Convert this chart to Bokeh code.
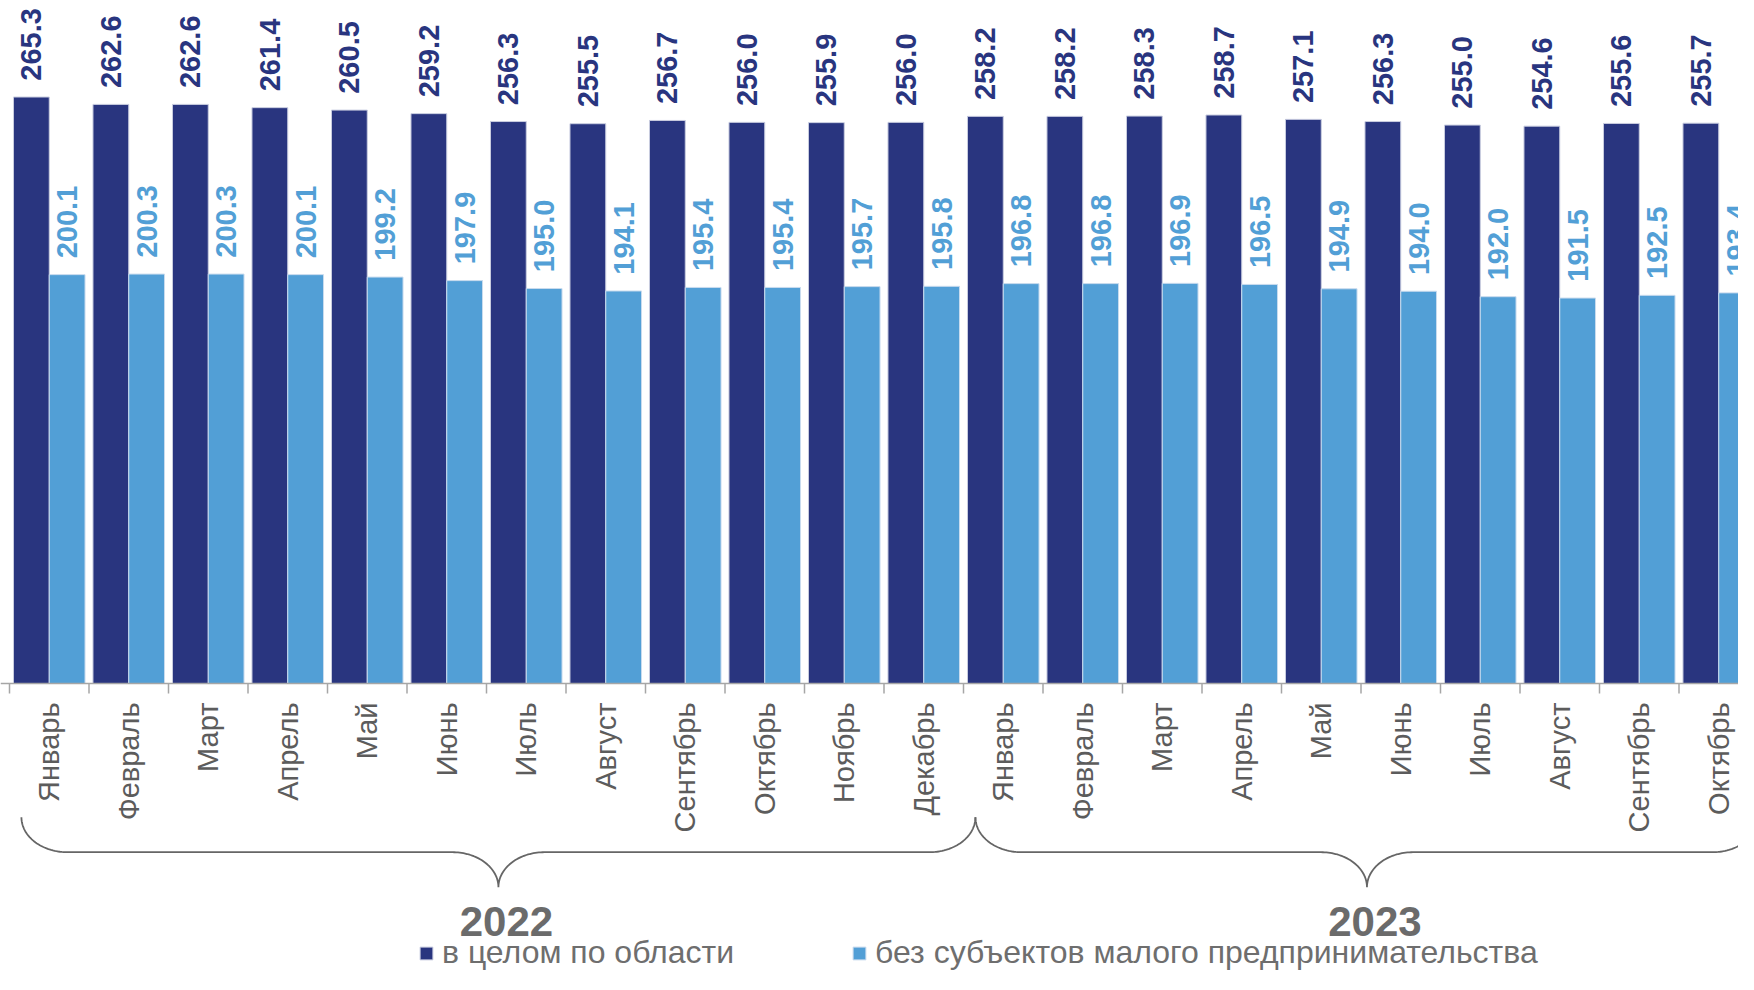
import numpy as np
from bokeh.plotting import figure
from bokeh.models import ColumnDataSource, Range1d, Legend, LegendItem, Span
from bokeh.core.properties import value
from bokeh.embed import file_html
from bokeh.resources import INLINE

# ---------------- data ----------------
months = ["Январь", "Февраль", "Март", "Апрель", "Май", "Июнь", "Июль", "Август",
          "Сентябрь", "Октябрь", "Ноябрь", "Декабрь",
          "Январь", "Февраль", "Март", "Апрель", "Май", "Июнь", "Июль", "Август",
          "Сентябрь", "Октябрь"]
years = ["2022", "2023"]
year_counts = [12, 10]
total = [265.3, 262.6, 262.6, 261.4, 260.5, 259.2, 256.3, 255.5, 256.7, 256.0, 255.9, 256.0,
         258.2, 258.2, 258.3, 258.7, 257.1, 256.3, 255.0, 254.6, 255.6, 255.7]
excl = [200.1, 200.3, 200.3, 200.1, 199.2, 197.9, 195.0, 194.1, 195.4, 195.4, 195.7, 195.8,
        196.8, 196.8, 196.9, 196.5, 194.9, 194.0, 192.0, 191.5, 192.5, 193.4]
series_names = ["в целом по области", "без субъектов малого предпринимательства"]

# ---------------- layout / style ----------------
W, H = 1738, 974
FONT = "Liberation Sans"
DARK = "#29357F"
LIGHT = "#529FD6"
GREY = "#5c5c5c"
BASE = 50.0           # value where bars start (axis line)
BASE_PX = 683.0       # pixel row of the axis line
K = 2.724             # pixels per value unit
GROUP_PX = 79.5
LEFT_PX = 9.0


def v_at(py):
    return BASE + (BASE_PX - py) / K


n = len(months)
x_start = -LEFT_PX / GROUP_PX
x_end = (W - LEFT_PX) / GROUP_PX

p = figure(width=W, height=H, x_range=Range1d(x_start, x_end),
           y_range=Range1d(v_at(H), v_at(0)),
           output_backend="svg", toolbar_location=None,
           x_axis_location=None, y_axis_location=None,
           min_border_left=0, min_border_right=0, min_border_top=0, min_border_bottom=0,
           outline_line_color=None, background_fill_color="white")
p.grid.visible = False

idx = np.arange(n)
src = ColumnDataSource(dict(
    xd=idx + 0.275, xl=idx + 0.725, xm=idx + 0.5,
    total=total, excl=excl,
    td=[f"{v:.1f}" for v in total], tl=[f"{v:.1f}" for v in excl],
    yd=[v + 6.0 for v in total], yl=[v + 6.0 for v in excl],
    month=months,
))

r1 = p.vbar(x="xd", top="total", bottom=BASE, width=0.45, source=src,
            fill_color=DARK, line_color="#c9cde0", line_width=1)
r2 = p.vbar(x="xl", top="excl", bottom=BASE, width=0.45, source=src,
            fill_color=LIGHT, line_color="#c9dbee", line_width=1)

# value labels
p.text(x="xd", y="yd", text="td", source=src, angle=np.pi / 2,
       text_align="left", text_baseline="middle",
       text_font=value(FONT), text_font_style="bold", text_font_size="29px",
       text_color=DARK)
p.text(x="xl", y="yl", text="tl", source=src, angle=np.pi / 2,
       text_align="left", text_baseline="middle",
       text_font=value(FONT), text_font_style="bold", text_font_size="29px",
       text_color=LIGHT)

# category axis: line, ticks at group boundaries, month labels
p.add_layout(Span(location=BASE, dimension="width", line_color="#a6a6a6", line_width=1.5))
bounds = np.arange(n + 1)
p.segment(x0=bounds, x1=bounds, y0=[BASE] * len(bounds), y1=[BASE - 10 / K] * len(bounds),
          line_color="#a6a6a6", line_width=1.5)
p.text(x="xm", y=v_at(702), text="month", source=src, angle=np.pi / 2,
       text_align="right", text_baseline="middle",
       text_font=value(FONT), text_font_size="29px", text_color=GREY)

# year braces
offset = 0.15
rx = 46 / GROUP_PX
ry = 35 / K
y_mid = v_at(851.7)
y_tip = y_mid + ry
y_pt = y_mid - ry
t = np.linspace(0, np.pi / 2, 40)
xs, ys, ylab_x = [], [], []
start = 0
for yr, cnt in zip(years, year_counts):
    x0 = start + offset
    x1 = min(start + cnt + offset, n)
    xc = (x0 + x1) / 2
    bx = np.concatenate([x0 + rx * (1 - np.cos(t)),
                         xc - rx + rx * np.sin(t),
                         xc + rx * (1 - np.cos(t)),
                         x1 - rx + rx * np.sin(t)])
    by = np.concatenate([y_mid + ry * (1 - np.sin(t)),
                         y_pt + ry * np.cos(t),
                         y_pt + ry * np.sin(t),
                         y_mid + ry * (1 - np.cos(t))])
    xs.append(list(bx))
    ys.append(list(by))
    ylab_x.append(xc + 0.1)
    start += cnt
p.multi_line(xs=xs, ys=ys, line_color="#666666", line_width=1.8)
p.text(x=ylab_x, y=[v_at(921)] * len(ylab_x), text=years,
       text_align="center", text_baseline="middle",
       text_font=value(FONT), text_font_style="bold", text_font_size="42px",
       text_color="#6b6b6b")

# legend
legend = Legend(items=[LegendItem(label=series_names[0], renderers=[r1]),
                       LegendItem(label=series_names[1], renderers=[r2])],
                orientation="horizontal", location=(418, 3),
                glyph_width=16, glyph_height=16, label_standoff=8, spacing=117,
                padding=0, margin=0, border_line_color=None, background_fill_alpha=0,
                label_text_font=FONT, label_text_font_size="32px", label_text_color="#6e6e6e")
p.add_layout(legend)

open("out.html", "w").write(file_html(p, INLINE))
